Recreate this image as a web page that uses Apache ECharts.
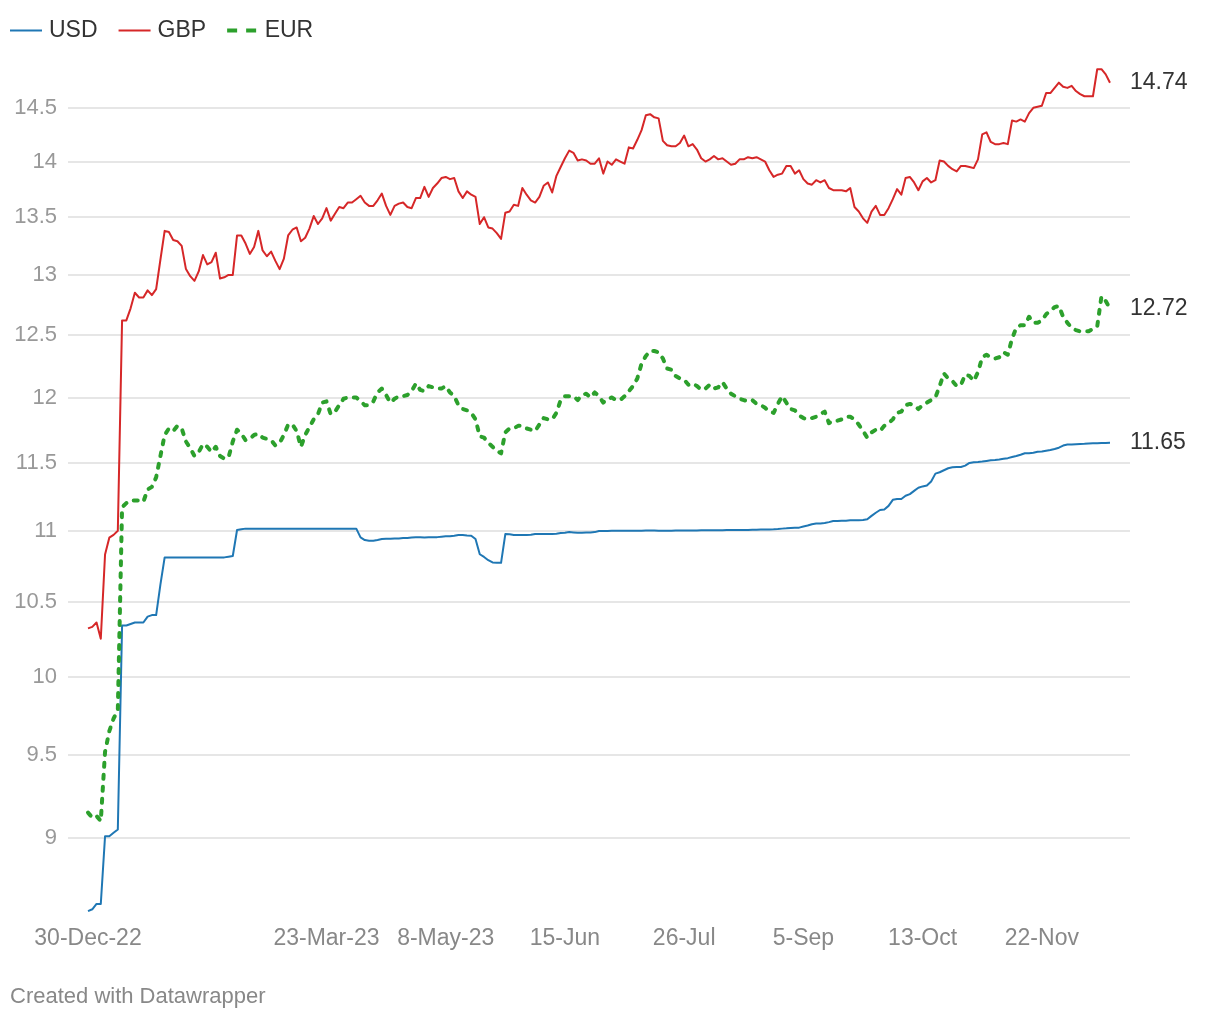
<!DOCTYPE html>
<html><head><meta charset="utf-8">
<script src="https://cdn.jsdelivr.net/npm/echarts@6/dist/echarts.min.js"></script>
<style>html,body{margin:0;padding:0;background:#fff}#c{width:1220px;height:1020px}</style>
</head><body><div id="c"></div>
<script>
// ---- data (daily rates, index 0 = 30-Dec-22) ----
const usd = [
8.58,8.59,8.62,8.62,9.01,9.01,9.03,9.05,10.34,10.34,
10.35,10.36,10.36,10.36,10.40,10.41,10.41,10.62,10.81,10.81,
10.81,10.81,10.81,10.81,10.81,10.81,10.81,10.81,10.81,10.81,
10.81,10.81,10.81,10.815,10.82,11.005,11.01,11.015,11.015,11.015,
11.015,11.015,11.015,11.015,11.015,11.015,11.015,11.015,11.015,11.015,
11.015,11.015,11.015,11.015,11.015,11.015,11.015,11.015,11.015,11.015,
11.015,11.015,11.015,11.015,10.952,10.933,10.928,10.928,10.933,10.94,
10.942,10.942,10.945,10.945,10.947,10.947,10.952,10.954,10.954,10.952,
10.954,10.954,10.954,10.957,10.96,10.96,10.964,10.969,10.969,10.966,
10.964,10.94,10.832,10.813,10.79,10.774,10.772,10.772,10.976,10.974,
10.969,10.969,10.969,10.969,10.971,10.976,10.976,10.976,10.976,10.976,
10.978,10.983,10.986,10.99,10.988,10.986,10.986,10.988,10.988,10.99,
10.998,10.998,10.998,10.999,10.999,11.0,11.0,11.0,11.0,11.0,
11.0,11.001,11.001,11.001,11.0,11.0,11.0,11.0,11.001,11.001,
11.001,11.002,11.002,11.002,11.003,11.003,11.003,11.004,11.004,11.004,
11.005,11.005,11.005,11.006,11.006,11.006,11.007,11.007,11.008,11.008,
11.009,11.01,11.012,11.015,11.017,11.02,11.022,11.022,11.03,11.037,
11.047,11.052,11.052,11.055,11.062,11.07,11.07,11.072,11.072,11.075,
11.075,11.075,11.077,11.082,11.107,11.13,11.15,11.154,11.18,11.224,
11.23,11.23,11.254,11.266,11.29,11.313,11.323,11.33,11.36,11.418,
11.428,11.443,11.458,11.465,11.468,11.468,11.478,11.498,11.503,11.505,
11.508,11.513,11.518,11.52,11.524,11.529,11.534,11.542,11.55,11.56,
11.571,11.571,11.574,11.582,11.584,11.59,11.595,11.603,11.613,11.629,
11.637,11.637,11.64,11.642,11.643,11.645,11.646,11.647,11.648,11.649,
11.65];
const gbp = [
10.32,10.33,10.36,10.25,10.83,10.95,10.97,11.00,12.62,12.62,
12.72,12.85,12.81,12.81,12.87,12.83,12.88,13.13,13.38,13.37,
13.30,13.29,13.25,13.05,12.99,12.95,13.03,13.17,13.09,13.11,
13.19,12.97,12.98,13.00,13.00,13.34,13.34,13.27,13.18,13.24,
13.38,13.21,13.16,13.20,13.12,13.05,13.14,13.34,13.39,13.41,
13.29,13.32,13.40,13.51,13.44,13.49,13.58,13.47,13.53,13.59,
13.58,13.63,13.63,13.66,13.69,13.63,13.60,13.60,13.65,13.71,
13.60,13.52,13.60,13.62,13.63,13.59,13.58,13.67,13.67,13.77,
13.68,13.76,13.80,13.85,13.86,13.84,13.85,13.73,13.67,13.73,
13.70,13.68,13.44,13.50,13.41,13.40,13.36,13.31,13.54,13.55,
13.61,13.60,13.76,13.70,13.65,13.63,13.68,13.78,13.81,13.72,
13.87,13.95,14.03,14.10,14.08,14.01,14.02,14.01,13.98,13.98,
14.03,13.89,14.00,13.97,14.02,14.00,13.98,14.13,14.12,14.20,
14.29,14.43,14.44,14.41,14.40,14.19,14.15,14.14,14.14,14.17,
14.24,14.14,14.16,14.11,14.03,14.00,14.02,14.05,14.02,14.03,
14.00,13.97,13.98,14.02,14.02,14.04,14.03,14.04,14.02,14.00,
13.92,13.86,13.88,13.89,13.96,13.96,13.89,13.92,13.84,13.80,
13.79,13.83,13.81,13.83,13.76,13.74,13.74,13.74,13.73,13.76,
13.59,13.55,13.49,13.45,13.55,13.60,13.52,13.52,13.58,13.66,
13.75,13.70,13.85,13.86,13.81,13.74,13.82,13.85,13.81,13.83,
14.01,14.00,13.96,13.93,13.91,13.96,13.96,13.95,13.94,14.02,
14.25,14.27,14.18,14.16,14.16,14.17,14.16,14.38,14.37,14.39,
14.37,14.45,14.50,14.51,14.52,14.64,14.64,14.69,14.74,14.70,
14.69,14.71,14.66,14.63,14.61,14.61,14.61,14.87,14.87,14.82,
14.74];
const eur = [
9.15,9.12,9.13,9.10,9.52,9.65,9.73,9.78,11.17,11.20,
11.22,11.22,11.22,11.21,11.30,11.32,11.39,11.55,11.71,11.76,
11.74,11.78,11.76,11.66,11.61,11.55,11.58,11.64,11.62,11.58,
11.62,11.55,11.53,11.54,11.66,11.75,11.72,11.67,11.68,11.71,
11.72,11.69,11.68,11.67,11.63,11.65,11.71,11.79,11.79,11.74,
11.62,11.71,11.77,11.83,11.87,11.96,11.97,11.87,11.89,11.94,
11.99,12.00,12.00,12.00,11.97,11.94,11.94,11.97,12.04,12.07,
12.02,11.96,11.99,12.01,12.01,12.02,12.05,12.11,12.06,12.05,
12.09,12.08,12.07,12.07,12.09,12.04,12.01,11.94,11.91,11.90,
11.88,11.83,11.70,11.69,11.65,11.62,11.59,11.57,11.73,11.76,
11.76,11.78,11.78,11.76,11.75,11.74,11.79,11.84,11.83,11.83,
11.88,11.98,12.01,12.01,12.01,11.98,12.02,12.03,12.00,12.04,
12.01,11.96,11.99,12.00,11.98,11.98,12.01,12.05,12.09,12.15,
12.27,12.33,12.37,12.37,12.36,12.31,12.23,12.22,12.17,12.15,
12.14,12.10,12.11,12.09,12.06,12.07,12.10,12.07,12.08,12.12,
12.07,12.03,12.01,11.99,11.98,11.97,11.98,11.95,11.94,11.92,
11.89,11.88,11.95,12.01,11.96,11.91,11.90,11.86,11.84,11.83,
11.84,11.85,11.87,11.89,11.80,11.82,11.82,11.83,11.85,11.85,
11.83,11.79,11.74,11.69,11.73,11.75,11.74,11.78,11.80,11.83,
11.88,11.89,11.94,11.95,11.94,11.91,11.94,11.96,11.98,12.00,
12.09,12.19,12.15,12.13,12.09,12.10,12.18,12.17,12.13,12.20,
12.32,12.34,12.32,12.31,12.32,12.36,12.34,12.47,12.56,12.58,
12.58,12.65,12.60,12.60,12.62,12.67,12.70,12.73,12.74,12.65,
12.60,12.56,12.54,12.53,12.53,12.53,12.55,12.57,12.82,12.78,
12.72];
const xTickIndex = [0, 56, 84, 112, 140, 168, 196, 224];
const xTickLabels = ['30-Dec-22', '23-Mar-23', '8-May-23', '15-Jun', '26-Jul', '5-Sep', '13-Oct', '22-Nov'];
const yTicks = [9, 9.5, 10, 10.5, 11, 11.5, 12, 12.5, 13, 13.5, 14, 14.5];

// ---- chart ----
const FONT = '"Liberation Sans", Arial, Helvetica, sans-serif';
const toPts = arr => arr.map((v, i) => [i, Math.log(v)]);
const logTicks = yTicks.map(v => Math.log(v));
const SOLID_ICON = 'path://M0,0 H32 V2 H0 Z';
const DASH_ICON = 'path://M0,0 H10 V4 H0 Z M19,0 H29 V4 H19 Z';

function mkSeries(name, raw, color, extra) {
  return {
    name, type: 'line', data: toPts(raw), symbol: 'none', showSymbol: false,
    animation: false, emphasis: { disabled: true },
    lineStyle: Object.assign({ color, width: 2, join: 'round' }, extra || {}),
    itemStyle: { color },
    endLabel: {
      show: true, distance: 20, color: '#333', fontSize: 23, fontFamily: FONT,
      formatter: () => raw[raw.length - 1].toFixed(2)
    }
  };
}

const chart = echarts.init(document.getElementById('c'), null, { renderer: 'canvas' });
chart.setOption({
  animation: false,
  backgroundColor: '#fff',
  legend: {
    left: 10, top: 19, padding: 0, itemWidth: 32, itemHeight: 4, itemGap: 21,
    symbolKeepAspect: true,
    textStyle: { fontSize: 23, color: '#333', fontFamily: FONT, padding: [0, 0, 0, 2] },
    data: [
      { name: 'USD', icon: SOLID_ICON },
      { name: 'GBP', icon: SOLID_ICON },
      { name: 'EUR', icon: DASH_ICON }
    ]
  },
  grid: { left: 68, right: 90, top: 60, bottom: 105, containLabel: false },
  xAxis: {
    type: 'value', min: -4.7, max: 244.7,
    axisLine: { show: false }, splitLine: { show: false },
    axisTick: { show: false, customValues: xTickIndex },
    axisLabel: {
      customValues: xTickIndex, margin: 12, color: '#888', fontSize: 23, fontFamily: FONT,
      formatter: v => { const k = xTickIndex.indexOf(Math.round(v)); return k >= 0 ? xTickLabels[k] : ''; }
    }
  },
  yAxis: {
    type: 'value', min: Math.log(8.558), max: Math.log(14.96),
    axisLine: { show: false },
    axisTick: { show: false, customValues: logTicks },
    splitLine: { show: true, lineStyle: { color: '#e6e6e6', width: 2 } },
    axisLabel: {
      customValues: logTicks, margin: 11, color: '#999', fontSize: 22, fontFamily: FONT,
      formatter: v => String(Math.round(Math.exp(v) * 2) / 2)
    }
  },
  graphic: [{
    type: 'text', left: 10, top: 986,
    style: { text: 'Created with Datawrapper', fill: '#888', font: '22px ' + FONT }
  }],
  series: [
    mkSeries('USD', usd, '#1f77b4'),
    mkSeries('GBP', gbp, '#d62728'),
    mkSeries('EUR', eur, '#2ca02c', { width: 4, type: [4, 8], cap: 'round' })
  ]
});
</script>
</body></html>
